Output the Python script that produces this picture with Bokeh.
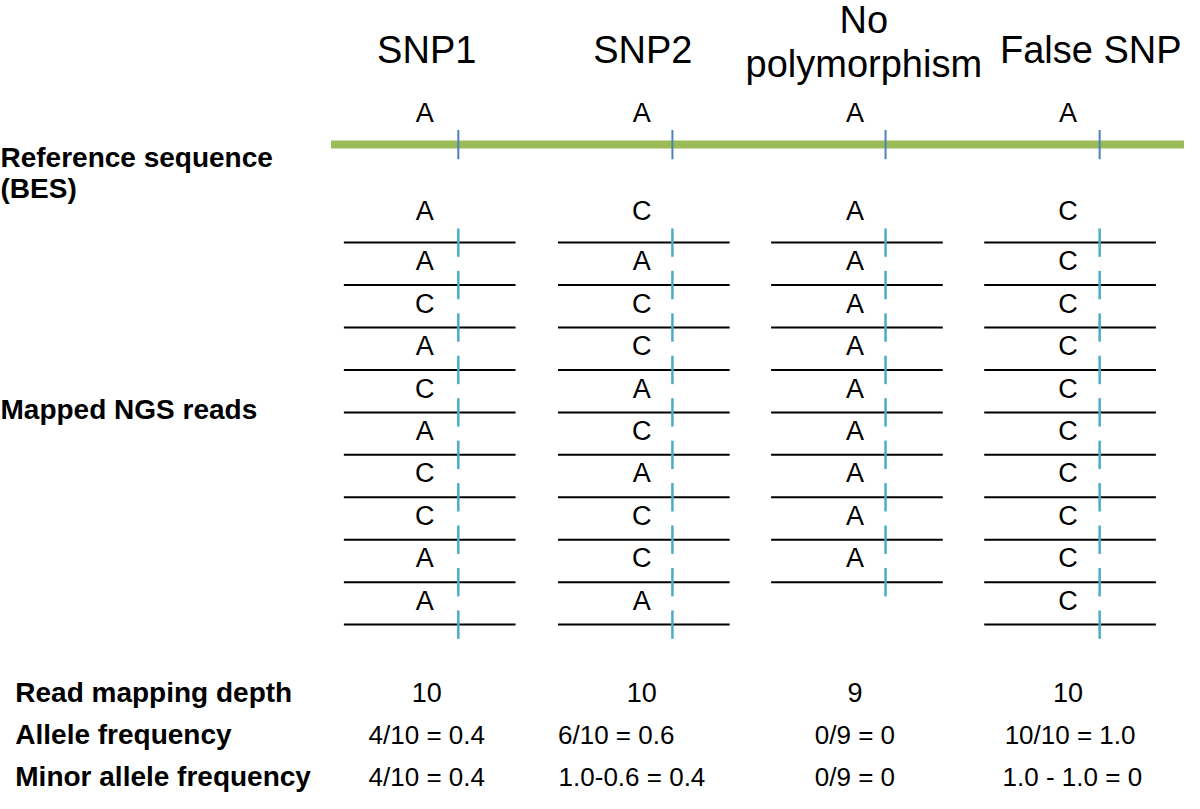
from bokeh.plotting import figure
from bokeh.models import Range1d
from bokeh.core.properties import value
from bokeh.embed import file_html
from bokeh.resources import INLINE

# ---------------- data ----------------
columns = ["SNP1", "SNP2", "No\npolymorphism", "False SNP"]
reference_allele = ["A", "A", "A", "A"]
snp1_reads = ["A", "A", "C", "A", "C", "A", "C", "C", "A", "A"]
snp2_reads = ["C", "A", "C", "C", "A", "C", "A", "C", "C", "A"]
nopoly_reads = ["A", "A", "A", "A", "A", "A", "A", "A", "A"]
false_reads = ["C", "C", "C", "C", "C", "C", "C", "C", "C", "C"]
depth = ["10", "10", "9", "10"]
allele_freq = ["4/10 = 0.4", "6/10 = 0.6", "0/9 = 0", "10/10 = 1.0"]
minor_freq = ["4/10 = 0.4", "1.0-0.6 = 0.4", "0/9 = 0", "1.0 - 1.0 =  0"]
side_labels = ["Reference sequence", "(BES)", "Mapped NGS reads"]
row_labels = ["Read mapping depth", "Allele frequency", "Minor allele frequency"]

all_reads = [snp1_reads, snp2_reads, nopoly_reads, false_reads]

# ---------------- layout ----------------
W, H = 1184, 793
col_x = [430, 650, 866, 1082]
line_cx = [435, 652, 868, 1084]
tick_x = [464, 681, 897, 1114]
header_x = [432, 651, 875, 1105]
header_cy = [50, 50, 42.5, 50]
LINE0, STEP = 247.0, 43.3

SANS = value("Liberation Sans")

p = figure(width=W, height=H, x_range=Range1d(0, 1200), y_range=Range1d(809, 0),
           output_backend="svg", toolbar_location=None, min_border=0)
p.axis.visible = False
p.grid.visible = False
p.outline_line_color = None
p.background_fill_color = "white"
p.border_fill_color = "white"

# headers
hx, hy, ht = [], [], []
for i, name in enumerate(columns):
    parts = name.split("\n")
    n = len(parts)
    for j, t in enumerate(parts):
        hx.append(header_x[i])
        hy.append(header_cy[i] - (n - 1) * 22.5 + j * 45)
        ht.append(t)
p.text(x=hx, y=hy, text=ht, text_font=SANS, text_font_size="38px",
       text_align="center", text_baseline="middle", text_color="black")

# reference sequence
p.segment(x0=[335], y0=[147], x1=[1200], y1=[147], line_color="#9BBB59", line_width=8)
p.segment(x0=tick_x, y0=[132] * 4, x1=tick_x, y1=[162] * 4, line_color="#4F81BD", line_width=2)
p.text(x=col_x, y=[115] * 4, text=reference_allele, text_font=SANS, text_font_size="27px",
       text_align="center", text_baseline="middle", text_color="black")

# reads
lx0, lx1, ly, tx, ty0, ty1, rx, ry, rt = [], [], [], [], [], [], [], [], []
for i, reads in enumerate(all_reads):
    for k, base in enumerate(reads):
        y = LINE0 + STEP * k
        lx0.append(line_cx[i] - 87)
        lx1.append(line_cx[i] + 87)
        ly.append(y)
        tx.append(tick_x[i])
        ty0.append(y - 14.5)
        ty1.append(y + 14.5)
        rx.append(col_x[i])
        ry.append(215 if k == 0 else LINE0 + STEP * (k - 1) + 19)
        rt.append(base)
p.segment(x0=lx0, y0=ly, x1=lx1, y1=ly, line_color="black", line_width=2)
p.segment(x0=tx, y0=ty0, x1=tx, y1=ty1, line_color="#4BACC6", line_width=2.5)
p.text(x=rx, y=ry, text=rt, text_font=SANS, text_font_size="27px",
       text_align="center", text_baseline="middle", text_color="black")

# side labels
p.text(x=[0, 0, 0], y=[160, 192, 417], text=side_labels, text_font=SANS,
       text_font_size="28px", text_font_style="bold", text_align="left",
       text_baseline="middle", text_color="black")

# bottom rows
row_y = [706, 749, 792]
p.text(x=[15] * 3, y=row_y, text=row_labels, text_font=SANS, text_font_size="28px",
       text_font_style="bold", text_align="left", text_baseline="middle", text_color="black")
p.text(x=[432, 650, 866, 1082], y=[row_y[0]] * 4, text=depth, text_font=SANS,
       text_font_size="27px", text_align="center", text_baseline="middle", text_color="black")
p.text(x=[432, 624, 866, 1084], y=[row_y[1]] * 4, text=allele_freq, text_font=SANS,
       text_font_size="26px", text_align="center", text_baseline="middle", text_color="black")
p.text(x=[432, 640, 866, 1090], y=[row_y[2]] * 4, text=minor_freq, text_font=SANS,
       text_font_size="26px", text_align="center", text_baseline="middle", text_color="black")

open("out.html", "w").write(file_html(p, INLINE))
